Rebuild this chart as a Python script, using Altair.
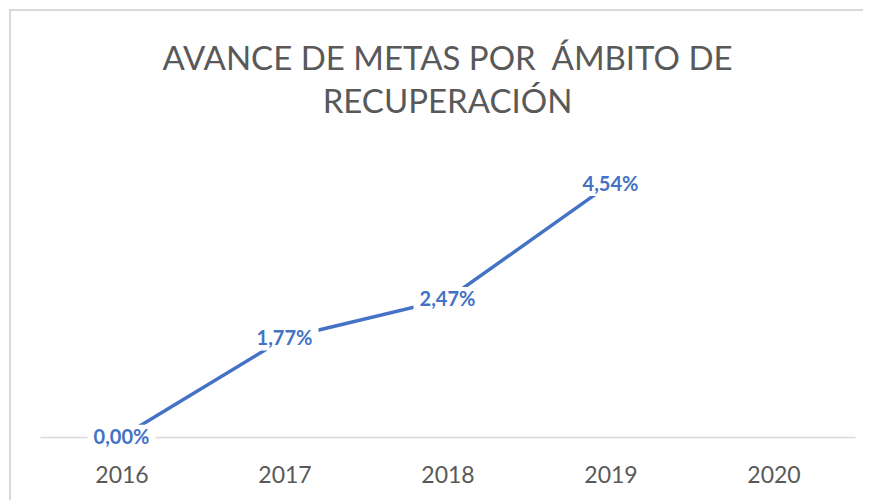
import altair as alt
import pandas as pd

years = ["2016", "2017", "2018", "2019", "2020"]
data_years = ["2016", "2017", "2018", "2019"]
values = [0.00, 1.77, 2.47, 4.54]
labels = ["0,00%", "1,77%", "2,47%", "4,54%"]
title_lines = ["AVANCE DE METAS POR \u00a0ÁMBITO DE", "RECUPERACIÓN"]

df = pd.DataFrame({"year": data_years, "value": values, "label": labels})

BLUE = "#4472C4"
GRAY = "#595959"
FONT = "Lato"

x = alt.X("year:N", scale=alt.Scale(type="point", domain=years, padding=0.5),
          axis=alt.Axis(title=None, labelAngle=0, labelFont=FONT, labelFontSize=23,
                        labelColor=GRAY, labelPadding=27, ticks=False,
                        domainColor="#d9d9d9", domainWidth=1.5))
y = alt.Y("value:Q", scale=alt.Scale(domain=[0, 5], nice=False), axis=None)

base = alt.Chart(df)

frame = alt.Chart(df).mark_rect(fill=None, stroke="#d9d9d9", strokeWidth=1.5).encode(
    x=alt.value(-30), x2=alt.value(850), y=alt.value(-148), y2=alt.value(400)
)

title1 = alt.Chart(pd.DataFrame({"t": [title_lines[0]]})).mark_text(
    font=FONT, fontSize=33, fontWeight=400, color=GRAY, align="center", baseline="alphabetic"
).encode(text="t:N", x=alt.value(407.5), y=alt.value(-88))

title2 = alt.Chart(pd.DataFrame({"t": [title_lines[1]]})).mark_text(
    font=FONT, fontSize=33, fontWeight=400, color=GRAY, align="center", baseline="alphabetic"
).encode(text="t:N", x=alt.value(407.5), y=alt.value(-45))

line = base.mark_line(color=BLUE, strokeWidth=3.5).encode(x=x, y=y)

boxes = base.mark_point(
    shape="M-1,-0.36L1,-0.36L1,0.36L-1,0.36Z", filled=True, fill="white",
    opacity=1, stroke=None, size=68 * 68
).encode(x=x, y=y)

text = base.mark_text(font=FONT, fontSize=20, fontWeight="bold", color=BLUE,
                      baseline="middle", dy=1).encode(x=x, y=y, text="label:N")

chart = alt.layer(frame, title1, title2, line, boxes, text).properties(
    width=815, height=279,
    background="white",
    autosize=alt.AutoSizeParams(type="none"),
    padding={"left": 32, "top": 150, "right": 8, "bottom": 63},
).configure_view(stroke=None)

chart.save("out.html", embed_options={"renderer": "svg", "actions": False})
